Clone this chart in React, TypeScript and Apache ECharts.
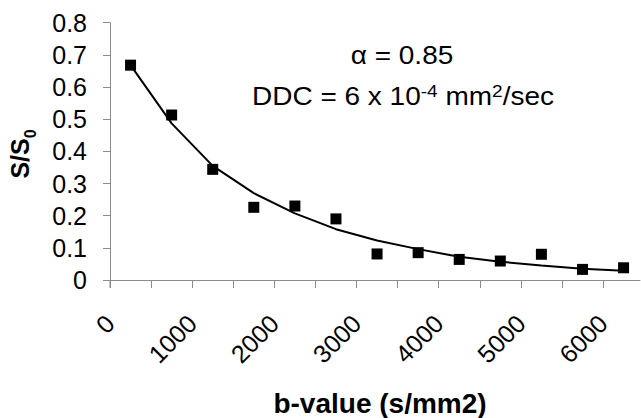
import React, { useEffect, useRef } from 'react';
import * as echarts from 'echarts';

const bValues = [250, 750, 1250, 1750, 2250, 2750, 3250, 3750, 4250, 4750, 5250, 5750, 6250];
const measured = [0.668, 0.513, 0.344, 0.226, 0.23, 0.19, 0.081, 0.085, 0.064, 0.059, 0.08, 0.033, 0.038];
const fitted = [0.668, 0.487, 0.355, 0.27, 0.207, 0.158, 0.123, 0.096, 0.072, 0.057, 0.045, 0.035, 0.029];
const xTickValues = [0, 500, 1000, 1500, 2000, 2500, 3000, 3500, 4000, 4500, 5000, 5500, 6000];
const xLabelValues = [0, 1000, 2000, 3000, 4000, 5000, 6000];
const yTicks = [0, 0.1, 0.2, 0.3, 0.4, 0.5, 0.6, 0.7, 0.8];

const FONT = '"Liberation Sans", Arial, Helvetica, sans-serif';
const INK = '#000000';
const AXIS = '#8c8c8c';

export default function App() {
  const ref = useRef<HTMLDivElement>(null);
  useEffect(() => {
    if (!ref.current) return;
    const chart = echarts.init(ref.current, undefined, { renderer: 'svg' });
    chart.setOption({
      animation: false,
      backgroundColor: '#ffffff',
      textStyle: { fontFamily: FONT },
      grid: { left: 110, top: 22.7, right: 1, bottom: 138, containLabel: false },
      xAxis: {
        type: 'value',
        min: 0,
        max: 6450,
        interval: 500,
        axisLine: { show: true, lineStyle: { color: AXIS, width: 1 } },
        axisTick: { show: true, length: 8, customValues: xTickValues, lineStyle: { color: AXIS, width: 1 } },
        axisLabel: {
          customValues: xLabelValues,
          rotate: 45,
          margin: 39,
          fontSize: 25,
          color: INK,
          fontFamily: FONT,
          formatter: (v: number) => String(Math.round(v)),
        },
        splitLine: { show: false },
      },
      yAxis: {
        type: 'value',
        min: 0,
        max: 0.8,
        interval: 0.1,
        axisLine: { show: true, lineStyle: { color: AXIS, width: 1 } },
        axisTick: { show: true, length: 7, lineStyle: { color: AXIS, width: 1 } },
        axisLabel: {
          margin: 23,
          fontSize: 25,
          color: INK,
          fontFamily: FONT,
          formatter: (v: number) => {
            const t = yTicks.find((k) => Math.abs(k - v) < 1e-6);
            return t === undefined ? '' : String(Number(t.toFixed(1)));
          },
        },
        splitLine: { show: false },
      },
      series: [
        {
          type: 'line',
          data: bValues.map((b, i) => [b, fitted[i]]),
          showSymbol: false,
          symbol: 'none',
          lineStyle: { color: INK, width: 2, opacity: 1 },
          z: 2,
        },
        {
          type: 'scatter',
          data: bValues.map((b, i) => [b, measured[i]]),
          symbol: 'rect',
          symbolSize: 11,
          itemStyle: { color: INK, opacity: 1 },
          z: 3,
        },
      ],
      graphic: [
        {
          type: 'text',
          x: 402,
          y: 56,
          scaleX: 1.12,
          style: {
            text: 'α = 0.85',
            fontSize: 25,
            fontFamily: FONT,
            fill: INK,
            align: 'center',
            verticalAlign: 'middle',
          },
        },
        {
          type: 'text',
          x: 403,
          y: 97,
          scaleX: 1.12,
          style: {
            text: '{m|DDC = 6 x 10}{s|-4}{m| mm}{s|2}{m|/sec}',
            fontFamily: FONT,
            fill: INK,
            align: 'center',
            verticalAlign: 'middle',
            rich: {
              m: { fontSize: 25, lineHeight: 30, fontFamily: FONT, fill: INK },
              s: { fontSize: 17, lineHeight: 30, verticalAlign: 'top', fontFamily: FONT, fill: INK, padding: [1, 0, 0, 0] },
            },
          },
        },
        {
          type: 'text',
          x: 380,
          y: 403,
          style: {
            text: 'b-value (s/mm2)',
            fontSize: 28,
            fontWeight: 'bold',
            fontFamily: FONT,
            fill: INK,
            align: 'center',
            verticalAlign: 'middle',
          },
        },
        {
          type: 'text',
          x: 20,
          y: 154,
          rotation: Math.PI / 2,
          style: {
            text: '{m|S/S}{s|0}',
            fontFamily: FONT,
            fill: INK,
            align: 'center',
            verticalAlign: 'middle',
            rich: {
              m: { fontSize: 25, lineHeight: 28, fontWeight: 'bold', fontFamily: FONT, fill: INK },
              s: { fontSize: 16, lineHeight: 28, fontWeight: 'bold', verticalAlign: 'bottom', fontFamily: FONT, fill: INK, padding: [0, 0, -4, 0] },
            },
          },
        },
        {
          type: 'line',
          shape: { x1: 110, y1: 280, x2: 110, y2: 288 },
          style: { stroke: AXIS, lineWidth: 1 },
        },
      ],
    });
    return () => chart.dispose();
  }, []);
  return <div ref={ref} style={{ position: 'fixed', left: 0, top: 0, width: 641, height: 418 }} />;
}
